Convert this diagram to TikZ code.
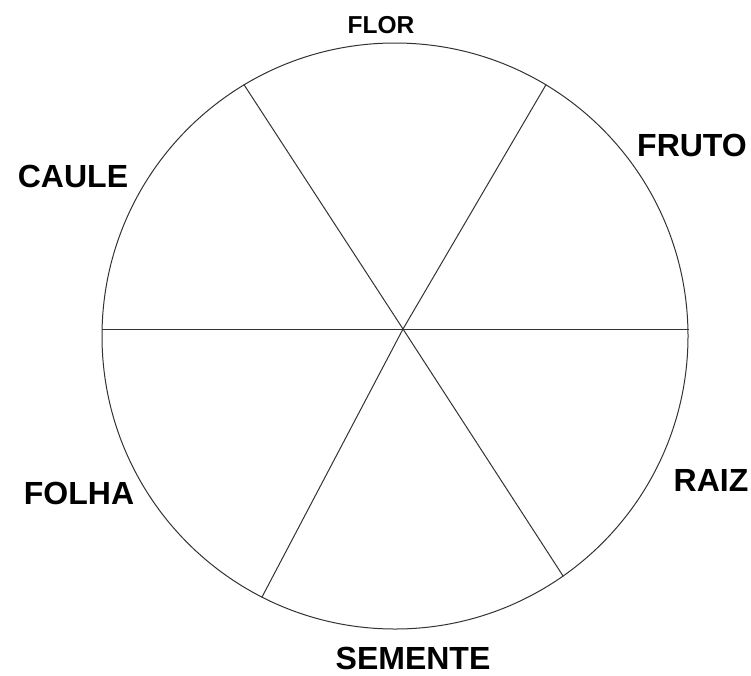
\documentclass[tikz,border=0pt]{standalone}
\usepackage{fontspec}
\setmainfont{Liberation Sans}
\usepackage{xcolor}
\usepackage{tikz}
\definecolor{cline}{HTML}{333333}

\begin{document}
\begin{tikzpicture}[
      x=1pt,y=-1pt,
      part/.style={font=\fontsize{32}{36}\selectfont\bfseries,inner sep=0pt},
      small/.style={part,font=\fontsize{24.5}{28}\selectfont\bfseries},
      spoke/.style={draw=cline,line width=1pt}]

    \useasboundingbox (0,0) rectangle (751,675);

    \node[circle,draw=cline,line width=1pt,minimum size=586pt,inner sep=0pt] (wheel) at (395,336) {};
    \coordinate (hub) at (403,329);

    % spokes
    \draw[spoke] (hub -| wheel.west) -- (hub -| wheel.east);
    \draw[spoke] (wheel.121.3) -- (hub) -- (wheel.305.5);
    \draw[spoke] (wheel.59.3) -- (hub) -- (wheel.243.6);

    % labels
    \node[small] (flor) at (381,25) {FLOR};
    \node[part] (fruto) at (692,145) {FRUTO};
    \node[part] (caule) at (73,176) {CAULE};
    \node[part] (raiz) at (711,480) {RAIZ};
    \node[part] (folha) at (79,493) {FOLHA};
    \node[part] (semente) at (413,658) {SEMENTE};
  \end{tikzpicture}
\end{document}
